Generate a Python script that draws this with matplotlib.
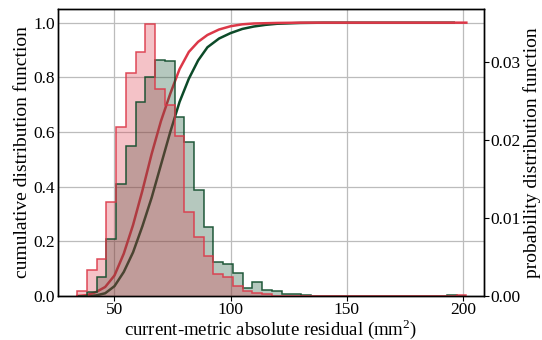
import numpy as np
import matplotlib
matplotlib.use('Agg')
import matplotlib.pyplot as plt

# shared histogram bins (data min / max of the residuals)
BIN_LO = 34.0
BIN_HI = 201.4
N_BINS = 40

# probability density per bin
red_pdf = [0.00063, 0.00327, 0.00473, 0.0120, 0.0216, 0.0285, 0.0313, 0.0348,
           0.0265, 0.0245, 0.0205, 0.0108, 0.0075, 0.00515, 0.00278, 0.00247,
           0.00125, 0.00063, 0.00042, 0.00021, 0, 0, 0, 0,
           0, 0, 0, 0, 0, 0, 0, 0,
           0, 0, 0, 0, 0, 0, 0, 0.00017]
green_pdf = [0, 0.00056, 0.00244, 0.00727, 0.01437, 0.01921, 0.02488, 0.02805,
             0.03028, 0.0301, 0.02297, 0.01977, 0.01357, 0.00887, 0.00435, 0.00411,
             0.00296, 0.00104, 0.00177, 0.00077, 0.00063, 0.00031, 0.00031, 0.00017,
             0, 0, 0, 0, 0, 0, 0, 0,
             0, 0, 0, 0, 0, 0, 0.00017, 0]

# cumulative distribution
red_cdf_x = [34, 38, 42, 46, 50, 54, 58, 62, 66, 70, 74, 78, 82, 86, 90, 95,
             100, 105, 110, 120, 130, 201.4]
red_cdf_y = [0, 0.003, 0.014, 0.033, 0.075, 0.155, 0.26, 0.385, 0.52, 0.64,
             0.74, 0.83, 0.893, 0.93, 0.955, 0.975, 0.987, 0.994, 0.997, 0.999,
             1.0, 1.0]
green_cdf_x = [38, 42, 46, 50, 54, 58, 62, 66, 70, 74, 78, 82, 86, 90, 95,
               100, 105, 110, 115, 120, 130, 140, 196]
green_cdf_y = [0, 0.002, 0.01, 0.036, 0.088, 0.16, 0.255, 0.36, 0.48, 0.60,
               0.71, 0.795, 0.862, 0.91, 0.942, 0.962, 0.977, 0.986, 0.992,
               0.996, 0.999, 1.0, 1.0]

RED = '#dc3848'
GREEN = '#0c4a28'

plt.rcParams['font.family'] = ['Liberation Serif', 'DejaVu Serif']
plt.rcParams['mathtext.fontset'] = 'custom'
plt.rcParams['mathtext.rm'] = 'Liberation Serif'
plt.rcParams['font.size'] = 12.5

fig = plt.figure(figsize=(5.42, 3.4), dpi=100)
ax = fig.add_axes([58 / 542, 1 - 296 / 340, 426 / 542, 287 / 340])
ax2 = ax.twinx()

ax.set_axisbelow(True)
ax.grid(True, color='#bcbcbc', lw=0.9)
ax.plot(green_cdf_x, green_cdf_y, color=GREEN, lw=1.8)
ax.plot(red_cdf_x, red_cdf_y, color=RED, lw=1.8)

edges = np.linspace(BIN_LO, BIN_HI, N_BINS + 1)
centers = 0.5 * (edges[:-1] + edges[1:])
for pdf, col in ((green_pdf, GREEN), (red_pdf, RED)):
    ax2.hist(centers, bins=edges, weights=pdf, histtype='stepfilled',
             color=col, alpha=0.3, lw=0)
    ax2.hist(centers, bins=edges, weights=pdf, histtype='step',
             color=col, lw=1.1, alpha=0.9)

ax.set_xlim(25.7, 209.0)
ax.set_ylim(0, 1.05)
ax2.set_ylim(0, 0.03675)
ax.set_xticks([50, 100, 150, 200])
ax.set_yticks([0, 0.2, 0.4, 0.6, 0.8, 1.0])
ax.set_yticklabels(['0.0', '0.2', '0.4', '0.6', '0.8', '1.0'])
ax2.set_yticks([0, 0.01, 0.02, 0.03])
ax2.set_yticklabels(['0.00', '0.01', '0.02', '0.03'])
ax.tick_params(axis='y', length=0, pad=2)
ax.tick_params(axis='x', length=3.5, pad=0.5)
ax2.tick_params(axis='y', length=3.5, pad=1)

for a in (ax, ax2):
    for s in a.spines.values():
        s.set_color('black')
        s.set_linewidth(1.0)

ax.set_xlabel('current-metric absolute residual (mm$^2$)', fontsize=13.5, labelpad=0)
ax.set_ylabel('cumulative distribution function', fontsize=14, labelpad=2)
ax2.set_ylabel('probability distribution function', fontsize=14, labelpad=2)

fig.savefig('out.png', dpi=100)
